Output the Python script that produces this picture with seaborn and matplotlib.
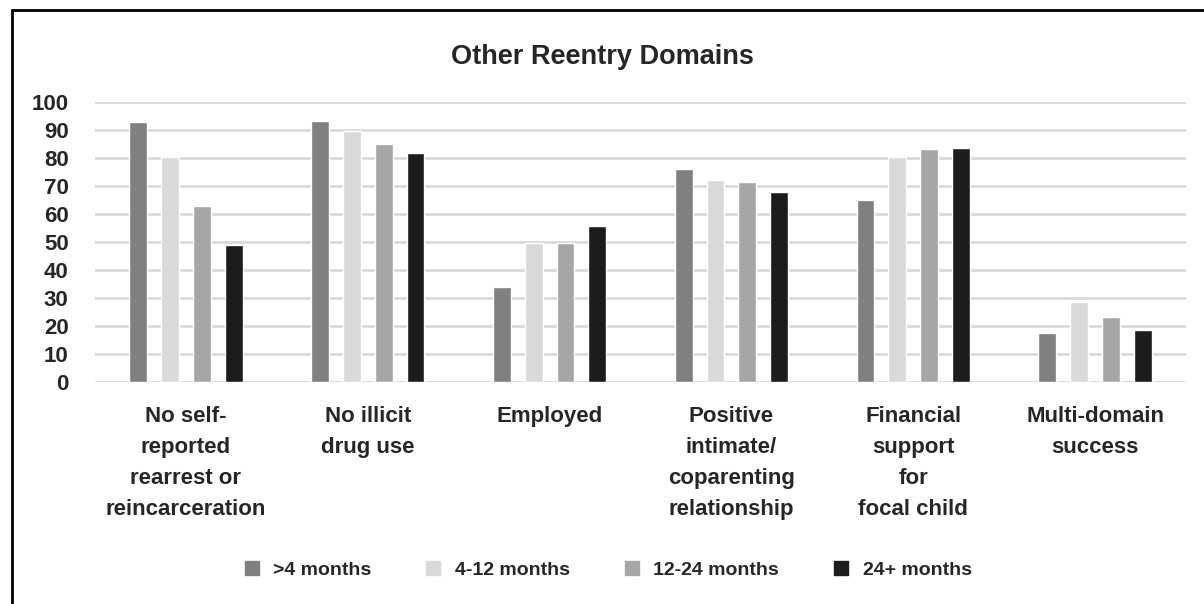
import seaborn as sns
import matplotlib.pyplot as plt
import pandas as pd
from matplotlib.lines import Line2D

domains = [
    'No self-\nreported\nrearrest or\nreincarceration',
    'No illicit\ndrug use',
    'Employed',
    'Positive\nintimate/\ncoparenting\nrelationship',
    'Financial\nsupport\nfor\nfocal child',
    'Multi-domain\nsuccess',
]
periods = ['>4 months', '4-12 months', '12-24 months', '24+ months']
lt4 = [92.7, 93.2, 33.8, 76.1, 65.1, 17.6]
m4_12 = [80.2, 89.5, 49.6, 72.2, 80.4, 28.7]
m12_24 = [62.7, 85.1, 49.6, 71.3, 83.2, 23.3]
m24 = [49.0, 81.8, 55.7, 68.0, 83.7, 18.7]
colors = ['#808080', '#D9D9D9', '#A6A6A6', '#1C1C1C']

df = pd.DataFrame({
    'domain': domains * 4,
    'period': [p for p in periods for _ in domains],
    'value': lt4 + m4_12 + m12_24 + m24,
})

sns.set_style('white')
plt.rcParams['font.family'] = ['Liberation Sans', 'DejaVu Sans']
plt.rcParams['font.weight'] = 'bold'

fig = plt.figure(figsize=(12.04, 6.04), dpi=100)
ax = fig.add_axes([95 / 1204, 1 - 382 / 604, 1091 / 1204, 280 / 604])

sns.barplot(data=df, x='domain', y='value', hue='period', palette=colors,
            width=0.7, gap=0.44, saturation=1, ax=ax, legend=False)

ax.set_ylim(0, 100)
ax.set_xlim(-0.5, 5.5)
ax.set_yticks(range(0, 101, 10))
ax.set_yticklabels([str(v) for v in range(0, 101, 10)], fontsize=16, fontweight='bold')
ax.set_xticks(range(len(domains)))
ax.set_xticklabels(domains, fontsize=16, fontweight='bold', linespacing=1.63,
                   va='top')
ax.yaxis.grid(True, color='#D9D9D9', linewidth=2)
ax.set_axisbelow(True)
for s in ax.spines.values():
    s.set_visible(False)
ax.tick_params(axis='y', length=0, pad=19)
ax.tick_params(axis='x', length=0, pad=17)
ax.set_xlabel('')
ax.set_ylabel('')

fig.text(0.5, 1 - 57 / 604, 'Other Reentry Domains', ha='center', va='center',
         fontsize=19.5, fontweight='bold')

handles = [Line2D([], [], marker='s', linestyle='', markersize=10,
                  markerfacecolor=c, markeredgecolor=c) for c in colors]
fig.legend(handles, periods, loc='center', bbox_to_anchor=(0.5, 1 - 570 / 604),
           ncol=4, frameon=False, handletextpad=0.1,
           columnspacing=2.2, prop={'weight': 'bold', 'size': 14})

fig.add_artist(Line2D([12 / 1204, 12 / 1204], [0, 1 - 10 / 604],
                      transform=fig.transFigure, color='black', linewidth=2))
fig.add_artist(Line2D([12 / 1204, 1], [1 - 10 / 604, 1 - 10 / 604],
                      transform=fig.transFigure, color='black', linewidth=2))

fig.savefig('out.png', dpi=100)
